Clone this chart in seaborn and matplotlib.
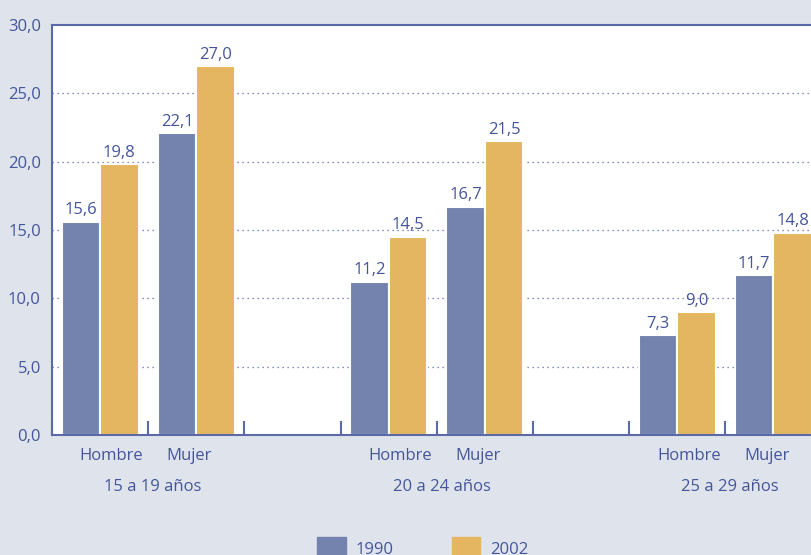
import pandas as pd
import matplotlib
matplotlib.use("Agg")
import matplotlib.pyplot as plt
import matplotlib.patches as mpatches
import seaborn as sns

# Data
grupos = ["15 a 19 años", "20 a 24 años", "25 a 29 años"]
sexos = ["Hombre", "Mujer"]
anios = ["1990", "2002"]
valores_1990 = [15.6, 22.1, 11.2, 16.7, 7.3, 11.7]
valores_2002 = [19.8, 27.0, 14.5, 21.5, 9.0, 14.8]

bg = "#dfe4ec"
azul = "#7383ae"
oro = "#e5b662"
texto = "#44559a"
linea = "#5a6aa6"

# Build long table
rows = []
i = 0
for g in grupos:
    for s in sexos:
        rows.append({"cat": f"{g}|{s}", "anio": "1990", "valor": valores_1990[i]})
        rows.append({"cat": f"{g}|{s}", "anio": "2002", "valor": valores_2002[i]})
        i += 1
df = pd.DataFrame(rows)

# Category order with empty slots between groups
order = []
for k, g in enumerate(grupos):
    order += [f"{g}|{s}" for s in sexos]
    if k < len(grupos) - 1:
        order.append(f"gap{k}")

sns.set_style("white")
plt.rcParams["font.family"] = ["Open Sans", "DejaVu Sans"]

fig = plt.figure(figsize=(8.11, 5.55), dpi=100, facecolor=bg)
ax = fig.add_axes([0.0641, 0.2162, 1 - 0.0641, 0.7387])
ax.set_facecolor("white")

sns.barplot(data=df, x="cat", y="valor", hue="anio", order=order, hue_order=anios,
            palette=[azul, oro], saturation=1, width=0.8, edgecolor="white", linewidth=1.5,
            ax=ax, legend=False)

for cont in ax.containers:
    ax.bar_label(cont, labels=[f"{v:.1f}".replace(".", ",") for v in cont.datavalues],
                 padding=2.5, color=texto, fontsize=12)

ax.set_yticks(range(0, 31, 5))
ax.set_yticklabels([f"{v},0" for v in range(0, 31, 5)], color=texto, fontsize=12)
ax.tick_params(axis="y", length=0, pad=8)
for y in range(5, 30, 5):
    ax.axhline(y, color=linea, linestyle=(0, (1, 3)), linewidth=0.9, zorder=0)

# x tick marks at slot boundaries
ax.set_xticks([])
ax.set_xticks([p - 0.5 for p in range(len(order))], minor=True)
ax.tick_params(axis="x", which="minor", bottom=True, direction="in", length=10,
               color=linea, width=1.5, labelbottom=False)
ax.set_xlabel("")
ax.set_ylabel("")

# limits after ticks (set_xticks can widen the view)
ax.set_ylim(0, 30)
ax.set_xlim(-0.5, 7.39)

# sex labels (slightly pulled toward each other) and group labels
xt = ax.get_xaxis_transform()
for k, g in enumerate(grupos):
    base = k * 3
    ax.text(base + 0.12, -0.05, sexos[0], transform=xt, ha="center", va="center",
            color=texto, fontsize=12)
    ax.text(base + 1 - 0.07, -0.05, sexos[1], transform=xt, ha="center", va="center",
            color=texto, fontsize=12)
    ax.text(base + 0.55, -0.127, g, transform=xt, ha="center", va="center",
            color=texto, fontsize=12)

for side in ["left", "bottom", "top"]:
    ax.spines[side].set_color(linea)
    ax.spines[side].set_linewidth(1.5)
ax.spines["right"].set_visible(False)

handles = [mpatches.Patch(color=azul, label="1990"), mpatches.Patch(color=oro, label="2002")]
fig.legend(handles=handles, loc="center", bbox_to_anchor=(0.5216, 0.012), ncol=2,
           frameon=False, handlelength=1.7, handleheight=1.8, columnspacing=3.5,
           handletextpad=0.6, labelcolor=texto, fontsize=12)

fig.savefig("out.png", dpi=100, facecolor=bg)
